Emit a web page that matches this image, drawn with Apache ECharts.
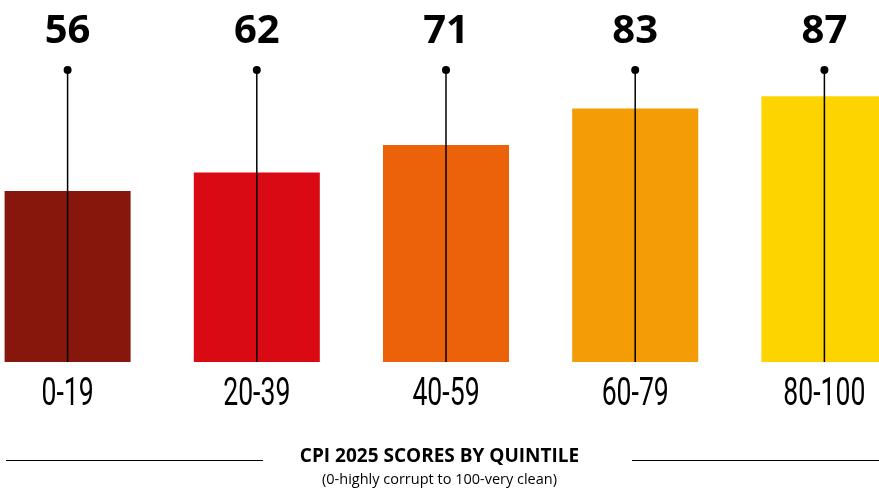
<!DOCTYPE html>
<html>
<head>
<meta charset="utf-8">
<script src="https://cdn.jsdelivr.net/npm/echarts@6/dist/echarts.min.js"></script>
<style>
  html, body { margin: 0; padding: 0; background: #fff; }
  #chart { width: 879px; height: 492px; }
</style>
</head>
<body>
<div id="chart"></div>
<script>
// CPI quintile scores
var quintiles = ['0-19', '20-39', '40-59', '60-79', '80-100'];
var scores = [56, 62, 71, 83, 87];
var barColors = ['#87170d', '#d90a14', '#ec620b', '#f39c06', '#fdd400'];
var stemTop = 95.6;

var myChart = echarts.init(document.getElementById('chart'));

option = {
    animation: false,
    backgroundColor: '#fff',
    grid: { left: -27, right: -40, top: 56.5, bottom: 130, outerBoundsMode: 'none' },
    xAxis: {
        type: 'category',
        data: quintiles,
        axisLine: { show: false },
        axisTick: { show: false },
        axisLabel: { show: false }
    },
    yAxis: {
        type: 'value',
        min: 0,
        max: 100,
        show: false,
        splitLine: { show: false }
    },
    series: [
        {
            type: 'bar',
            barWidth: 126,
            data: scores.map(function (v, i) {
                return { value: v, itemStyle: { color: barColors[i] } };
            }),
            z: 1
        },
        {
            // stems + category labels
            type: 'custom',
            data: quintiles.map(function (q, i) { return [i, stemTop]; }),
            renderItem: function (params, api) {
                var top = api.coord([api.value(0), api.value(1)]);
                var base = api.coord([api.value(0), 0]);
                return {
                    type: 'group',
                    children: [
                        {
                            type: 'line',
                            shape: { x1: top[0], y1: top[1], x2: base[0], y2: base[1] },
                            style: { stroke: '#000', lineWidth: 1.5 }
                        },
                        {
                            type: 'text',
                            x: base[0],
                            y: base[1] + 33,
                            scaleX: 0.7,
                            style: {
                                text: quintiles[params.dataIndex],
                                font: '38px Roboto, sans-serif',
                                fill: '#000',
                                align: 'center',
                                verticalAlign: 'middle'
                            }
                        }
                    ]
                };
            },
            z: 3
        },
        {
            type: 'scatter',
            symbolSize: 8,
            data: scores.map(function () { return stemTop; }),
            itemStyle: { color: '#000', opacity: 1 },
            label: {
                show: true,
                position: 'top',
                distance: 14,
                formatter: function (p) { return scores[p.dataIndex]; },
                fontFamily: '"Open Sans", sans-serif',
                fontWeight: 'bold',
                fontSize: 40,
                color: '#000'
            },
            z: 4
        }
    ],
    graphic: [
        {
            type: 'text',
            left: 'center',
            top: 447,
            style: {
                text: 'CPI 2025 SCORES BY QUINTILE',
                font: 'bold 19px "Open Sans", sans-serif',
                fill: '#000'
            }
        },
        {
            type: 'text',
            left: 'center',
            top: 472,
            style: {
                text: '(0-highly corrupt to 100-very clean)',
                font: '14.5px "Open Sans", sans-serif',
                fill: '#000'
            }
        },
        {
            type: 'line',
            shape: { x1: 6, y1: 460.5, x2: 263, y2: 460.5 },
            style: { stroke: '#000', lineWidth: 1 }
        },
        {
            type: 'line',
            shape: { x1: 632, y1: 460.5, x2: 879, y2: 460.5 },
            style: { stroke: '#000', lineWidth: 1 }
        }
    ]
};

myChart.setOption(option);
</script>
</body>
</html>
